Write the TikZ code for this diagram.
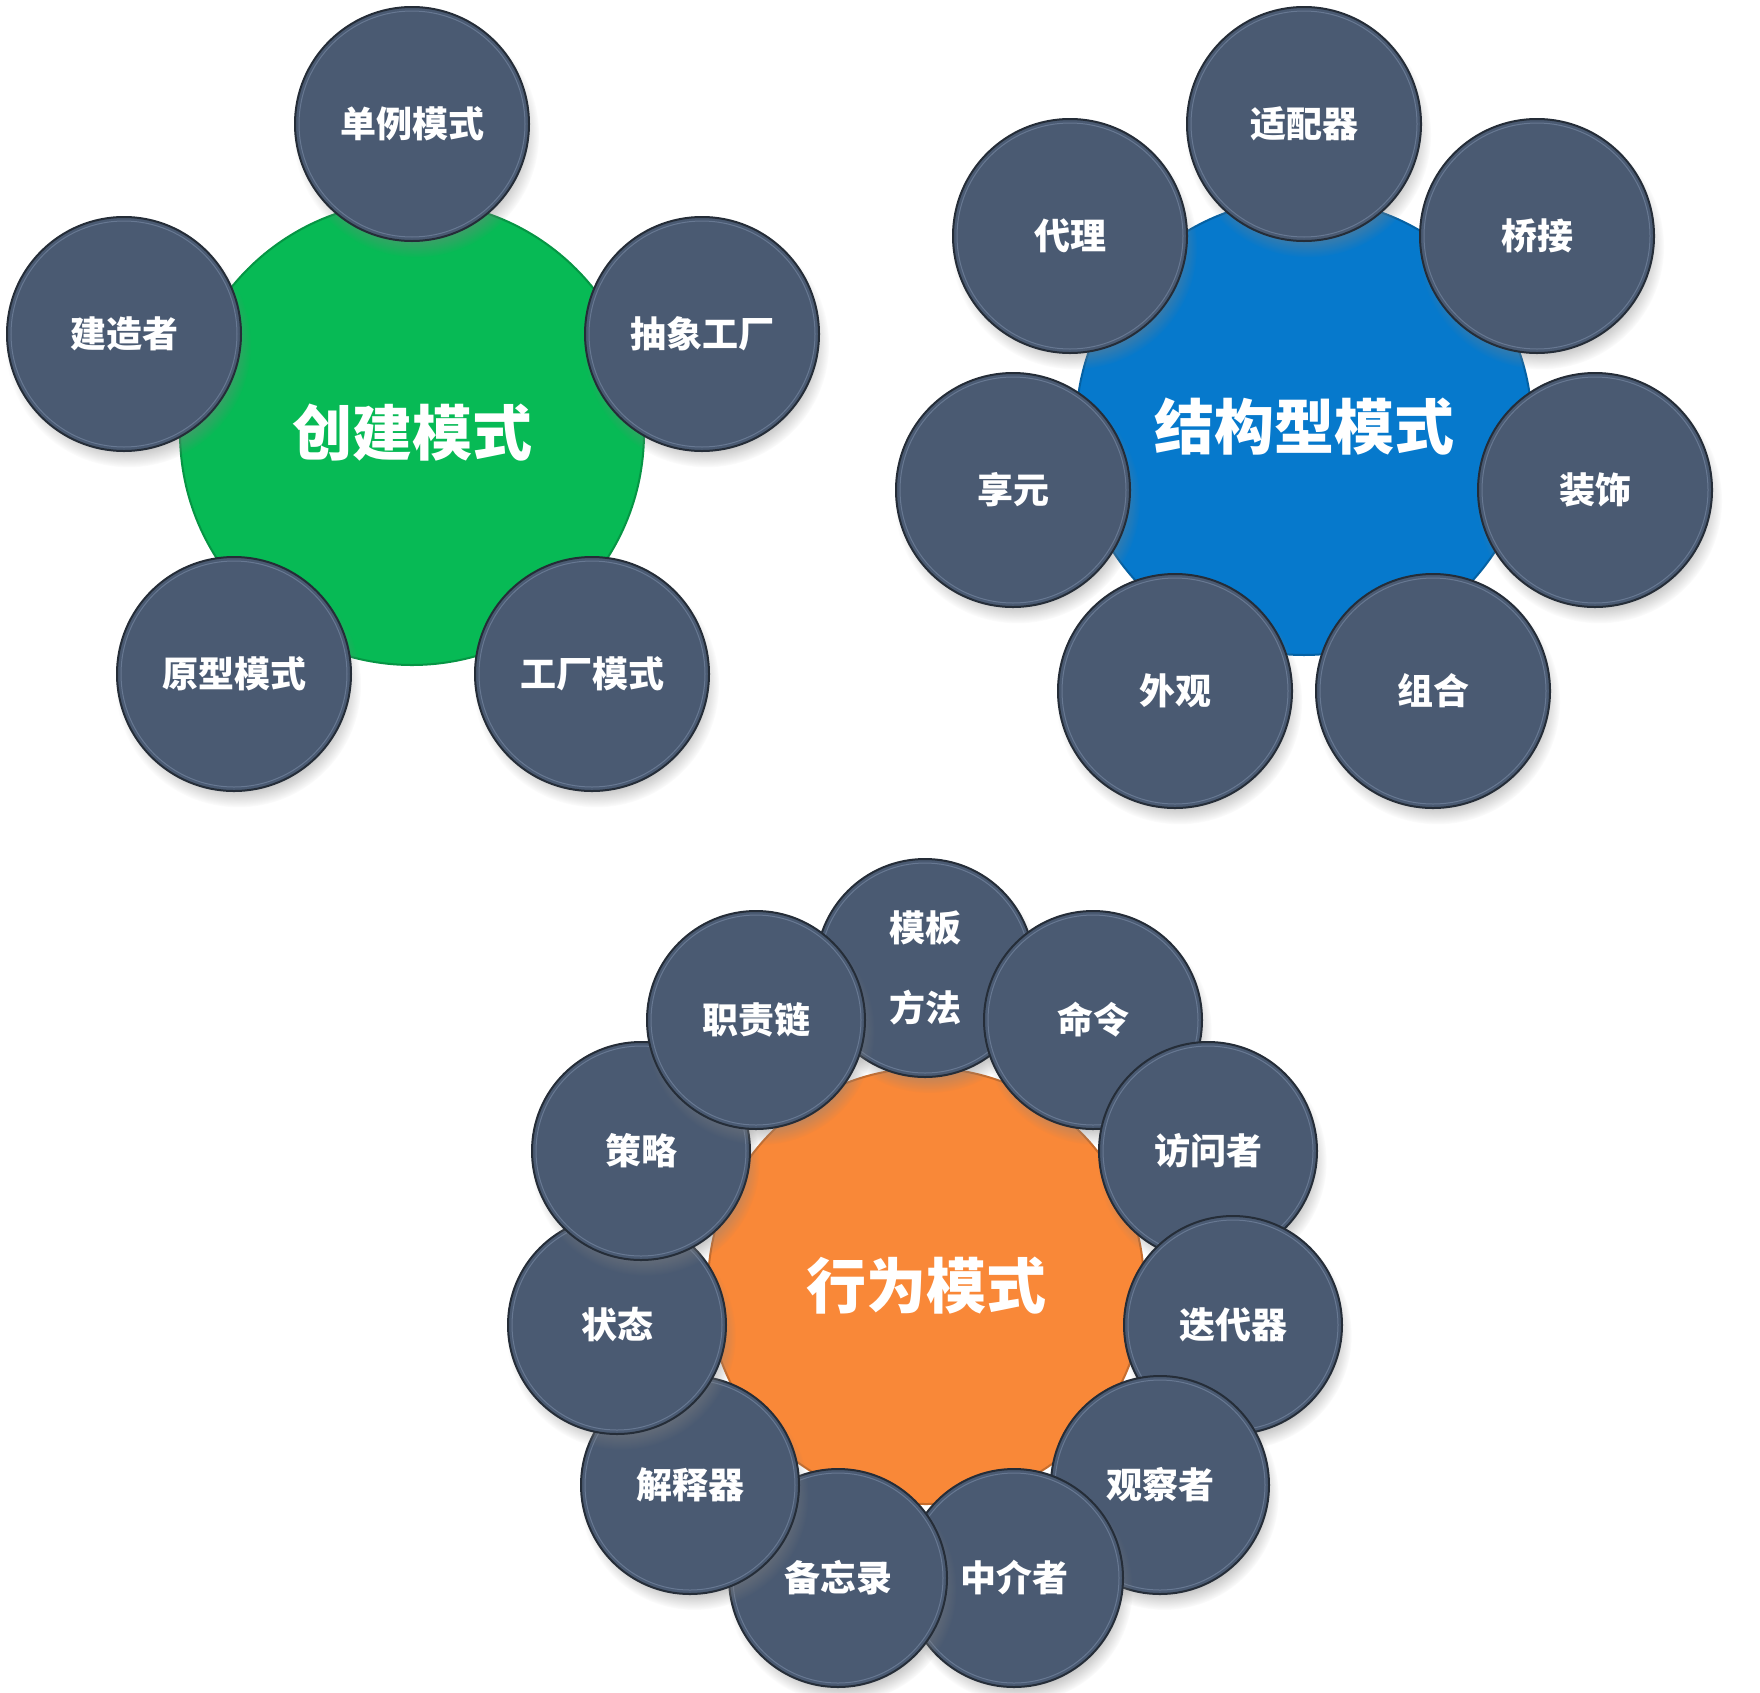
\documentclass[tikz,border=0pt]{standalone}
\usepackage{fontspec}
\setmainfont{Noto Sans CJK SC}
\usetikzlibrary{shadows}
\definecolor{satfill}{HTML}{4A5A72}
\definecolor{satline}{HTML}{252D38}
\definecolor{satrim}{HTML}{6F809A}
\definecolor{cgreen}{HTML}{07BA55}
\definecolor{cblue}{HTML}{0679CC}
\definecolor{corange}{HTML}{F98838}
\tikzset{
  satbase/.style={circle, inner sep=0pt, fill=satfill, draw=satline, line width=1pt,
    text=white, font=\fontsize{18pt}{22pt}\selectfont\bfseries,
    circular drop shadow={shadow xshift=2pt, shadow yshift=-5pt, shadow scale=1.05, opacity=0.45}},
  satbig/.style={satbase, minimum size=117pt},
  satsmall/.style={satbase, minimum size=109pt},
  rim/.style={draw=satrim, line width=0.5pt, opacity=0.8},
  hub/.style={circle, inner sep=0pt, text=white, line width=1pt,
    font=\fontsize{30pt}{34pt}\selectfont\bfseries},
}
\newcommand\mysat[4]{\node[#1] (#2) at (#3) {#4};\draw[rim] (#2.center) circle[radius=\rimr];}
\begin{document}
\begin{tikzpicture}[x=0.5pt,y=-0.5pt]
\useasboundingbox (0,0) rectangle (1760,1692);
\fill[white] (0,0) rectangle (1760,1692);

% ---------- creational ----------
\def\rimr{113}
\node[hub, fill=cgreen, draw=cgreen!80!black, minimum size=232pt] (cre) at (412,433) {创建模式};
\mysat{satbig}{singleton}{412,124}{单例模式}
\mysat{satbig}{builder}{124,334}{建造者}
\mysat{satbig}{absfactory}{702,334}{抽象工厂}
\mysat{satbig}{prototype}{234,674}{原型模式}
\mysat{satbig}{factory}{592,674}{工厂模式}

% ---------- structural ----------
\node[hub, fill=cblue, draw=cblue!80!black, minimum size=228pt] (str) at (1304,427) {结构型模式};
\mysat{satbig}{proxy}{1070,236}{代理}
\mysat{satbig}{adapter}{1304,124}{适配器}
\mysat{satbig}{bridge}{1537,236}{桥接}
\mysat{satbig}{flyweight}{1013,490}{享元}
\mysat{satbig}{decorator}{1595,490}{装饰}
\mysat{satbig}{facade}{1175,691}{外观}
\mysat{satbig}{composite}{1433,691}{组合}

% ---------- behavioral ----------
\def\rimr{105}
\node[hub, fill=corange, draw=corange!80!black, minimum size=218pt] (beh) at (926,1286) {行为模式};
\mysat{satsmall, align=center, font=\fontsize{18pt}{40pt}\selectfont\bfseries}{template}{925,968}{模板\\方法}
\mysat{satsmall}{command}{1093,1020}{命令}
\mysat{satsmall}{visitor}{1208,1151}{访问者}
\mysat{satsmall}{iterator}{1233,1325}{迭代器}
\mysat{satsmall}{observer}{1160,1485}{观察者}
\mysat{satsmall}{mediator}{1014,1578}{中介者}
\mysat{satsmall}{memento}{838,1578}{备忘录}
\mysat{satsmall}{interpreter}{690,1485}{解释器}
\mysat{satsmall}{state}{617,1325}{状态}
\mysat{satsmall}{strategy}{641,1151}{策略}
\mysat{satsmall}{chain}{756,1020}{职责链}
\end{tikzpicture}
\end{document}
